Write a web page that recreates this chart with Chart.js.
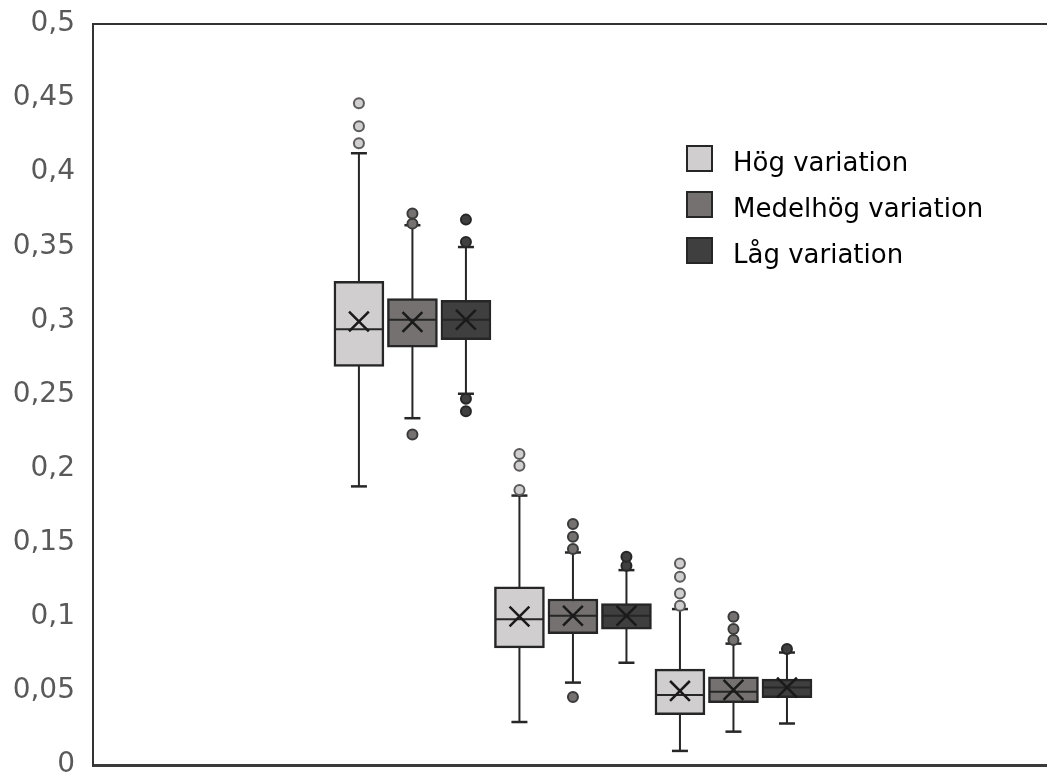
<!DOCTYPE html>
<html lang="sv">
<head>
<meta charset="utf-8">
<title>Boxdiagram variation</title>
<script src="https://cdn.jsdelivr.net/npm/chart.js@4.4.1/dist/chart.umd.min.js"></script>
<style>
    html, body { margin: 0; padding: 0; background: #fff; }
    #wrap { position: relative; width: 1047px; height: 772px; }
    #legend {
        position: absolute; left: 686px; top: 145px;
        font-family: 'DejaVu Sans', Verdana, sans-serif; font-size: 26px; color: #000;
    }
    .item { display: flex; align-items: center; height: 27px; margin-bottom: 19px; }
    .item span { position: relative; top: 3px; }
    .swatch { width: 23px; height: 23px; border: 2px solid #262626; margin-right: 20px; flex: none; }
</style>
</head>
<body>
<div id="wrap">
    <canvas id="boxChart" width="1047" height="772"></canvas>
    <div id="legend"></div>
</div>
<script>
// Series (one per variation level), each with three groups
const seriesNames = ['Hög variation', 'Medelhög variation', 'Låg variation'];

// Values per [series][group]
const whiskerLow  = [[0.188, 0.029, 0.0095], [0.234, 0.0556, 0.0225], [0.2505, 0.069, 0.028]];
const quartile1   = [[0.269, 0.079, 0.034], [0.282, 0.0887, 0.042], [0.287, 0.0917, 0.0455]];
const medians     = [[0.294, 0.0984, 0.0473], [0.3005, 0.1007, 0.0495], [0.3005, 0.1007, 0.0523]];
const quartile3   = [[0.3264, 0.1203, 0.0647], [0.3147, 0.112, 0.0595], [0.3135, 0.109, 0.0579]];
const whiskerHigh = [[0.4128, 0.1818, 0.1052], [0.3642, 0.1434, 0.0819], [0.3495, 0.1315, 0.0759]];
const means       = [[0.2993, 0.1002, 0.050], [0.2989, 0.1007, 0.0507], [0.3005, 0.1007, 0.0523]];
const outliers = [
    [[0.4196, 0.431, 0.4466], [0.1856, 0.202, 0.2099], [0.1074, 0.1158, 0.127, 0.136]],
    [[0.223, 0.3653, 0.3721], [0.0459, 0.1457, 0.154, 0.1626], [0.0843, 0.0917, 0.100]],
    [[0.2387, 0.2471, 0.3529, 0.368], [0.1345, 0.1405], [0.0782]]
];

const yTickLabels = ['0', '0,05', '0,1', '0,15', '0,2', '0,25', '0,3', '0,35', '0,4', '0,45', '0,5'];

// Styling
const fills = ['#d0cece', '#767171', '#3f3f3f'];
const outlierBorders = ['#5a5a5a', '#3a3a3a', '#262626'];
const lineColor = '#262626';
const FONT = "'DejaVu Sans', Verdana, sans-serif";

// Boxes sit side by side: group 0 -> slots 0..2, group 1 -> 3..5, ...
function slot(s, g) {
    return g * seriesNames.length + s;
}

function perBox(s, fn) {
    return whiskerLow[s].map((_, g) => fn(g, slot(s, g)));
}

// Drop the label padding so the plot frame uses the whole canvas
function noPadding(scale) {
    scale.paddingTop = 0;
    scale.paddingBottom = 0;
    scale.paddingLeft = 0;
    scale.paddingRight = 0;
}

const datasets = [];

seriesNames.forEach((name, s) => {
    // Whiskers: one line from min to max, hidden behind the box
    const whiskerPts = [];
    whiskerLow[s].forEach((v, g) => {
        const x = slot(s, g);
        whiskerPts.push({ x, y: v }, { x, y: whiskerHigh[s][g] }, { x, y: null });
    });
    datasets.push({
        type: 'line', label: name + ' whisker', data: whiskerPts,
        borderColor: lineColor, borderWidth: 2, pointRadius: 0, spanGaps: false, order: 6
    });

    // Caps at the whisker ends
    const capPts = [];
    whiskerLow[s].forEach((v, g) => {
        const x = slot(s, g);
        capPts.push({ x, y: v }, { x, y: whiskerHigh[s][g] });
    });
    datasets.push({
        type: 'scatter', label: name + ' cap', data: capPts,
        pointStyle: 'line', pointRadius: 8, borderColor: lineColor, borderWidth: 2.5, order: 3
    });

    // Box Q1..Q3
    datasets.push({
        type: 'bar', label: name,
        data: perBox(s, (g, x) => ({ x, y: [quartile1[s][g], quartile3[s][g]] })),
        backgroundColor: fills[s], borderColor: lineColor, borderWidth: 2.5,
        borderSkipped: false, barThickness: 50, grouped: false, order: 5
    });

    // Median line
    datasets.push({
        type: 'scatter', label: name + ' median',
        data: perBox(s, (g, x) => ({ x, y: medians[s][g] })),
        pointStyle: 'line', pointRadius: 24, borderColor: lineColor, borderWidth: 2, order: 4
    });

    // Mean marker
    datasets.push({
        type: 'scatter', label: name + ' medel',
        data: perBox(s, (g, x) => ({ x, y: means[s][g] })),
        pointStyle: 'crossRot', pointRadius: 14, borderColor: '#1a1a1a', borderWidth: 2.5, order: 2
    });

    // Outliers
    const outPts = [];
    outliers[s].forEach((vals, g) => {
        vals.forEach(v => outPts.push({ x: slot(s, g), y: v }));
    });
    datasets.push({
        type: 'scatter', label: name + ' extremvärden', data: outPts,
        pointStyle: 'circle', pointRadius: 5, backgroundColor: fills[s],
        borderColor: outlierBorders[s], borderWidth: 2, order: 1
    });
});

const frameBorder = { display: true, color: '#333333', width: 2 };

new Chart(document.getElementById('boxChart'), {
    type: 'bar',
    data: { datasets },
    options: {
        responsive: false,
        animation: false,
        // the big median markers would otherwise push the plot area inwards
        layout: { autoPadding: false, padding: { top: 24, right: 0, bottom: 7, left: 0 } },
        plugins: {
            legend: { display: false },
            tooltip: { enabled: false }
        },
        scales: {
            x: {
                type: 'linear', min: -4.97, max: 12.86, offset: false,
                grid: { display: false },
                ticks: { display: false },
                border: { display: true, color: '#3a3a3a', width: 3 },
                afterFit: scale => { scale.height = 0; noPadding(scale); }
            },
            xTop: {
                type: 'linear', position: 'top', min: 0, max: 1,
                grid: { display: false },
                ticks: { display: false },
                border: frameBorder,
                afterFit: scale => { scale.height = 0; noPadding(scale); }
            },
            y: {
                min: 0, max: 0.5,
                grid: { display: false, drawTicks: false },
                border: frameBorder,
                ticks: {
                    stepSize: 0.05,
                    padding: 18,
                    color: '#595959',
                    font: { family: FONT, size: 28 },
                    callback: (value, index) => yTickLabels[index]
                },
                afterFit: scale => { scale.width = 93; noPadding(scale); }
            }
        }
    }
});

// HTML legend built from the series
const legendEl = document.getElementById('legend');
legendEl.innerHTML = seriesNames.map((name, s) => `
    <div class="item">
        <div class="swatch" style="background:${fills[s]}"></div>
        <span>${name}</span>
    </div>
`).join('');
</script>
</body>
</html>
